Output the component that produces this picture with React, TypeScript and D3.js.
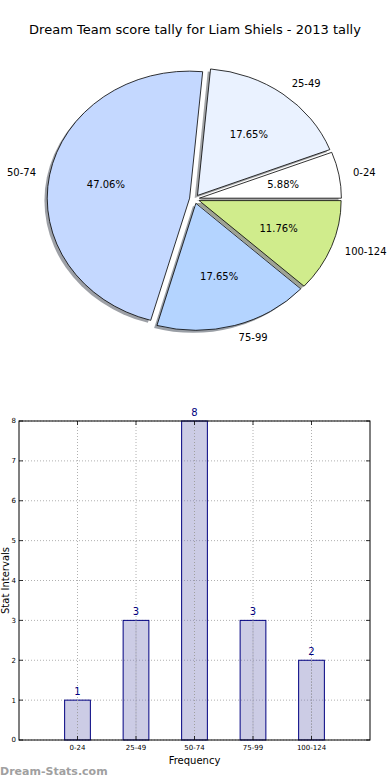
import * as d3 from "d3";
import { useEffect, useRef } from "react";

const categories = ["0-24", "25-49", "50-74", "75-99", "100-124"];
const counts = [1, 3, 8, 3, 2];
const pieColors = ["#ffffff", "#eaf2ff", "#c4d8ff", "#b4d4ff", "#d0ec8c"];
const yTicks = [0, 1, 2, 3, 4, 5, 6, 7, 8];
const title = "Dream Team score tally for Liam Shiels - 2013 tally";

const font = "DejaVu Sans, sans-serif";

const App = () => {
	const ref = useRef<SVGSVGElement>(null);

	useEffect(() => {
		const svg = d3.select(ref.current);
		svg.selectAll("*").remove();

		svg.append("text")
			.attr("x", 195)
			.attr("y", 34)
			.attr("text-anchor", "middle")
			.style("font-family", font)
			.style("font-size", "13px")
			.text(title);

		// pie (elliptical, as in the original)
		const cx = 194.5, cy = 199, rx = 142, ry = 127, explode = 0.035;
		const total = d3.sum(counts);
		const pie = d3.pie<number>().sort(null).startAngle(Math.PI / 2).endAngle(Math.PI / 2 - 2 * Math.PI);
		const arcs = pie(counts);
		const arc = d3.arc<d3.PieArcDatum<number>>().innerRadius(0).outerRadius(1);

		const geo = arcs.map(a => {
			const mid = (a.startAngle + a.endAngle) / 2;
			const ux = Math.sin(mid), uy = -Math.cos(mid);
			return { a, ux, uy, ox: cx + explode * rx * ux, oy: cy + explode * ry * uy };
		});

		const shadows = svg.append("g");
		geo.forEach((g, i) => {
			const c = d3.rgb(pieColors[i]);
			shadows.append("path")
				.attr("d", arc(g.a))
				.attr("transform", `translate(${g.ox - 2.8},${g.oy + 2.5}) scale(${rx},${ry})`)
				.attr("fill", d3.rgb(c.r * 0.3, c.g * 0.3, c.b * 0.3).toString())
				.attr("fill-opacity", 0.5);
		});

		const wedges = svg.append("g");
		geo.forEach((g, i) => {
			wedges.append("path")
				.attr("d", arc(g.a))
				.attr("transform", `translate(${g.ox},${g.oy}) scale(${rx},${ry})`)
				.attr("fill", pieColors[i])
				.attr("stroke", "#000")
				.attr("stroke-width", 0.8)
				.attr("vector-effect", "non-scaling-stroke");
		});

		geo.forEach((g, i) => {
			svg.append("text")
				.attr("x", g.ox + 1.1 * rx * g.ux)
				.attr("y", g.oy + 1.1 * ry * g.uy)
				.attr("dy", "0.35em")
				.attr("text-anchor", g.ux > 0 ? "start" : "end")
				.style("font-family", font)
				.style("font-size", "10px")
				.text(categories[i]);
			svg.append("text")
				.attr("x", g.ox + 0.6 * rx * g.ux)
				.attr("y", g.oy + 0.6 * ry * g.uy)
				.attr("dy", "0.35em")
				.attr("text-anchor", "middle")
				.style("font-family", font)
				.style("font-size", "10px")
				.text(d3.format(".2f")((counts[i] / total) * 100) + "%");
		});

		// bar chart
		const left = 19, right = 370, top = 421, bottom = 740;
		const x = d3.scaleLinear().domain([0, categories.length + 1]).range([left, right]);
		const y = d3.scaleLinear().domain([0, 8]).range([bottom, top]);
		const barW = 0.44;
		const xTicks = categories.map((_, i) => i + 1);

		const grid = svg.append("g")
			.attr("stroke", "#b0b0b0")
			.attr("stroke-width", 1)
			.attr("stroke-dasharray", "1,2");
		yTicks.forEach(t => {
			grid.append("line").attr("x1", left).attr("x2", right).attr("y1", y(t)).attr("y2", y(t));
		});
		xTicks.forEach(t => {
			grid.append("line").attr("x1", x(t)).attr("x2", x(t)).attr("y1", top).attr("y2", bottom);
		});

		svg.append("g")
			.selectAll("rect")
			.data(counts)
			.enter()
			.append("rect")
			.attr("x", (d, i) => x(i + 1 - barW / 2))
			.attr("y", d => y(d))
			.attr("width", x(barW) - x(0))
			.attr("height", d => y(0) - y(d))
			.attr("fill", "#7f7fbf")
			.attr("fill-opacity", 0.4)
			.attr("stroke", "#000080")
			.attr("stroke-width", 1);

		// grid lines show through the bars in the original
		const grid2 = svg.append("g")
			.attr("stroke", "#a0a0a0")
			.attr("stroke-width", 1)
			.attr("stroke-dasharray", "1,2");
		xTicks.forEach(t => {
			grid2.append("line").attr("x1", x(t)).attr("x2", x(t)).attr("y1", y(counts[t - 1])).attr("y2", bottom);
		});

		svg.append("g")
			.selectAll("text")
			.data(counts)
			.enter()
			.append("text")
			.attr("x", (d, i) => x(i + 1))
			.attr("y", d => y(d) - 5)
			.attr("text-anchor", "middle")
			.attr("fill", "#000080")
			.style("font-family", font)
			.style("font-size", "10px")
			.text(d => d);

		svg.append("rect")
			.attr("x", left).attr("y", top)
			.attr("width", right - left).attr("height", bottom - top)
			.attr("fill", "none").attr("stroke", "#000").attr("stroke-width", 1);

		const ticks = svg.append("g").attr("stroke", "#000").attr("stroke-width", 0.8);
		yTicks.forEach(t => {
			ticks.append("line").attr("x1", left).attr("x2", left + 4).attr("y1", y(t)).attr("y2", y(t));
			ticks.append("line").attr("x1", right).attr("x2", right - 4).attr("y1", y(t)).attr("y2", y(t));
		});
		xTicks.forEach(t => {
			ticks.append("line").attr("x1", x(t)).attr("x2", x(t)).attr("y1", bottom).attr("y2", bottom - 4);
			ticks.append("line").attr("x1", x(t)).attr("x2", x(t)).attr("y1", top).attr("y2", top + 4);
		});

		svg.append("g")
			.selectAll("text")
			.data(yTicks)
			.enter()
			.append("text")
			.attr("x", left - 3)
			.attr("y", d => y(d))
			.attr("dy", "0.35em")
			.attr("text-anchor", "end")
			.style("font-family", font)
			.style("font-size", "7px")
			.text(d => d);

		svg.append("g")
			.selectAll("text")
			.data(xTicks)
			.enter()
			.append("text")
			.attr("x", d => x(d))
			.attr("y", bottom + 8)
			.attr("dy", "0.35em")
			.attr("text-anchor", "middle")
			.style("font-family", font)
			.style("font-size", "7px")
			.text(d => categories[d - 1]);

		svg.append("text")
			.attr("x", (left + right) / 2)
			.attr("y", 764)
			.attr("text-anchor", "middle")
			.style("font-family", font)
			.style("font-size", "10px")
			.text("Frequency");

		svg.append("text")
			.attr("transform", `translate(9,${(top + bottom) / 2}) rotate(-90)`)
			.attr("text-anchor", "middle")
			.style("font-family", font)
			.style("font-size", "10px")
			.text("Stat Intervals");

		svg.append("text")
			.attr("x", 0)
			.attr("y", 775)
			.attr("fill", "#a0a0a0")
			.style("font-family", font)
			.style("font-size", "11px")
			.style("font-weight", "bold")
			.text("Dream-Stats.com");
	}, []);

	return (
		<svg ref={ref} width={390} height={780} style={{ position: "absolute", left: 0, top: 0, background: "#fff" }}></svg>
	);
};

export default App;
